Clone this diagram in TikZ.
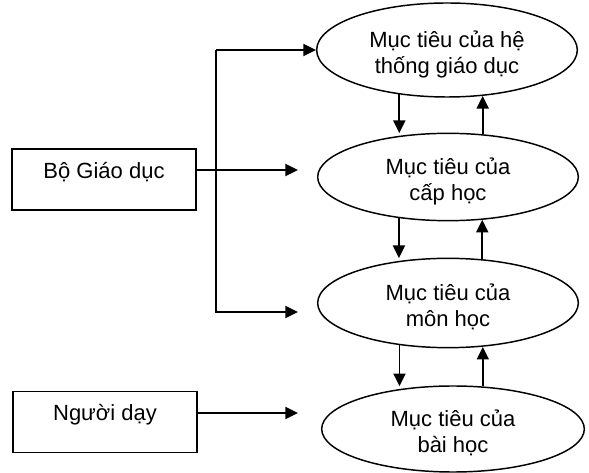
\documentclass[tikz,border=0pt]{standalone}
\usepackage{fontspec}
\setmainfont{Liberation Sans}
\usetikzlibrary{arrows.meta,shapes.geometric}
\begin{document}
\begin{tikzpicture}[x=0.75pt,y=-0.75pt,
  every node/.style={font=\fontsize{16.5pt}{19.5pt}\selectfont},
  goal/.style={draw, ellipse, line width=1.1pt, inner sep=0pt, align=center, minimum width=195.5pt, text height=36pt, text depth=0pt},
  src/.style={draw, rectangle, line width=1.1pt, minimum width=138pt, minimum height=45.5pt, text height=12pt, text depth=13pt},
  arr/.style={line width=1.4pt, -{Triangle[length=9.5pt,width=9pt]}}
]
\useasboundingbox (0,0) rectangle (589,473);
% goals
\node[goal, minimum height=70.5pt] (e1) at (447,50) {Mục tiêu của hệ\\thống giáo dục};
\node[goal, minimum height=65.5pt] (e2) at (448,177) {Mục tiêu của\\cấp học};
\node[goal, minimum height=67pt] (e3) at (448,303) {Mục tiêu của\\môn học};
\node[goal, minimum height=64.5pt, minimum width=197pt] (e4) at (453,429) {Mục tiêu của\\bài học};
% sources
\node[src] (bg) at (104,179.5) {Bộ Giáo dục};
\node[src, text depth=14pt] (nd) at (105,422) {Người dạy};
% free ends
\coordinate (vx) at (216,312);
\coordinate (b2) at (298,170);
\coordinate (b3) at (298,312);
\coordinate (b4) at (298,413);
% connectors from the ministry
\draw[arr] (vx |- e1.west) -- (e1.west);
\draw[arr] (vx |- e1.west) -- (vx) -- (b3);
\draw[arr] (bg.east |- b2) -- (b2);
\draw[arr] (nd.east |- b4) -- (b4);
% vertical arrows down
\draw[arr, shorten >=2pt] (e1.223) -- (e1.223 |- e2.140);
\draw[arr, shorten >=2pt] (e2.220) -- (e2.220 |- e3.139);
\draw[arr, shorten >=2pt] (e3.221) -- (e3.221 |- e4.143);
% vertical arrows up
\draw[arr] (e2.51) -- (e2.51 |- e1.308);
\draw[arr] (e3.52) -- (e3.52 |- e2.309);
\draw[arr] (e4.55) -- (e4.55 |- e3.308);
\end{tikzpicture}
\end{document}
